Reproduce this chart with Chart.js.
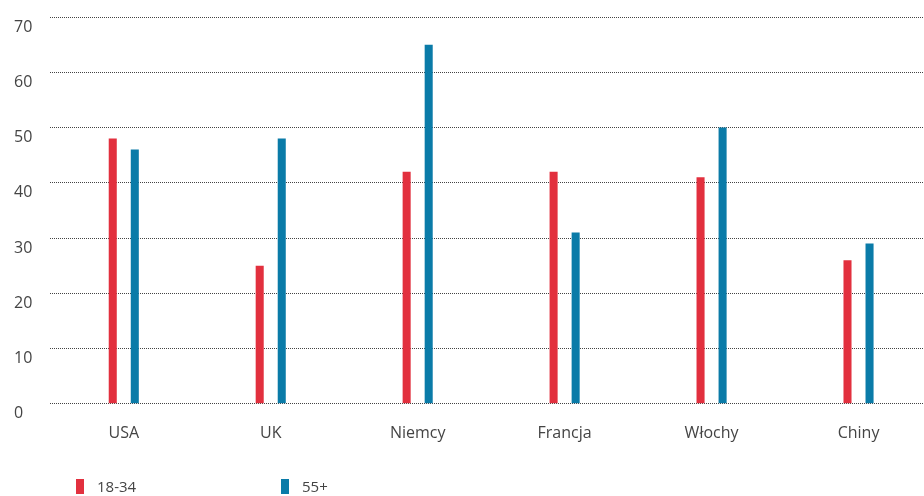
<!DOCTYPE html>
<html>
<head>
<meta charset="utf-8">
<script src="https://cdn.jsdelivr.net/npm/chart.js@4"></script>
<style>
  html, body { margin: 0; padding: 0; background: #fff; overflow: hidden; }
  #wrap { position: relative; width: 924px; height: 496px; overflow: hidden; }
  .legend { position: absolute; top: 476px; font-family: "Open Sans", sans-serif; font-size: 15px; color: #444; }
  .legend span.box { display: inline-block; width: 8px; height: 15px; vertical-align: -2px; margin-right: 13px; }
</style>
</head>
<body>
<div id="wrap">
  <canvas id="myChart" width="932" height="496"></canvas>
  <div class="legend" style="left:76px"><span class="box" style="background:#e2303e"></span>18-34</div>
  <div class="legend" style="left:281px"><span class="box" style="background:#0a7ba8"></span>55+</div>
</div>
<script>
// kraje i wartości
var kraje = ['USA', 'UK', 'Niemcy', 'Francja', 'Włochy', 'Chiny'];
var mlodzi = [48, 25, 42, 42, 41, 26];   // 18-34
var starsi = [46, 48, 65, 31, 50, 29];   // 55+
var yTicks = [0, 10, 20, 30, 40, 50, 60, 70];

var ctx = document.getElementById('myChart').getContext('2d');

var myChart = new Chart(ctx, {
    type: 'bar',
    data: {
        labels: kraje,
        datasets: [{
            label: '18-34',
            data: mlodzi,
            backgroundColor: '#e2303e'
        }, {
            label: '55+',
            data: starsi,
            backgroundColor: '#0a7ba8'
        }]
    },
    options: {
        responsive: false,
        animation: false,
        categoryPercentage: 0.3,
        barPercentage: 0.365,
        layout: { padding: { left: 14, right: 0, top: 5, bottom: 41 } },
        plugins: {
            legend: { display: false },
            tooltip: { enabled: false }
        },
        scales: {
            x: {
                grid: { display: false },
                border: { display: false },
                ticks: {
                    padding: 12,
                    color: '#444',
                    font: { family: 'Open Sans', size: 16 }
                }
            },
            y: {
                min: 0,
                max: 70,
                afterBuildTicks: function (axis) {
                    axis.ticks = yTicks.map(function (v) { return { value: v }; });
                },
                grid: { color: '#444', lineWidth: 1, drawTicks: false },
                border: { display: false, dash: [1, 1] },
                ticks: {
                    padding: 9,
                    labelOffset: 10,
                    crossAlign: 'far',
                    color: '#444',
                    font: { family: 'Open Sans', size: 16, lineHeight: 1 }
                }
            }
        }
    }
});
</script>
</body>
</html>
